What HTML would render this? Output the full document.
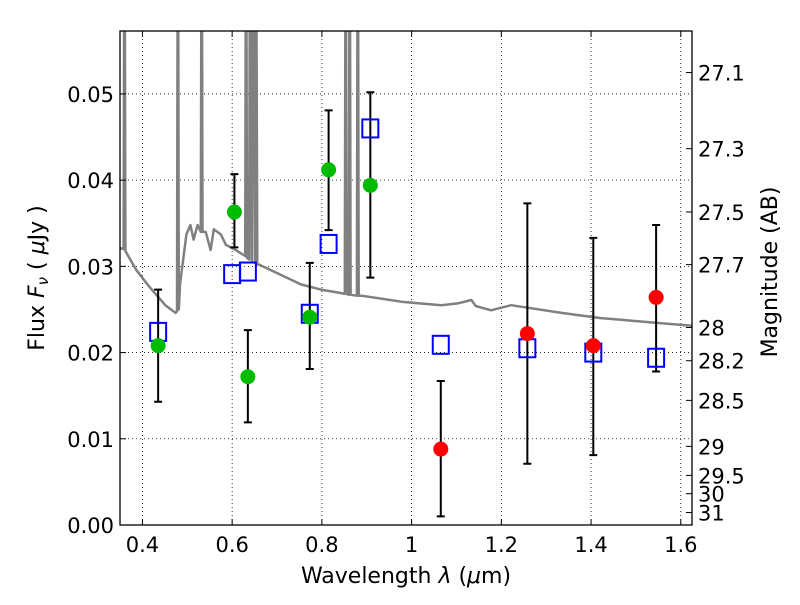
<!DOCTYPE html>
<html><head><meta charset="utf-8"><style>
html,body{margin:0;padding:0;background:#fff;}
svg text{font-family:"DejaVu Sans","Liberation Sans",sans-serif;fill:#000;}
</style></head><body>
<svg id="chart" width="800" height="600" viewBox="0 0 800 600" xmlns="http://www.w3.org/2000/svg">
<defs><clipPath id="clip"><rect x="120" y="31" width="572" height="494"/></clipPath></defs>
<rect x="0" y="0" width="800" height="600" fill="#fff"/>
<g id="grid"></g>
<g id="spec" clip-path="url(#clip)"></g>
<g id="marks" clip-path="url(#clip)"></g>
<rect x="120" y="31" width="572" height="494" fill="none" stroke="#000" stroke-width="1.3"/>
<g id="axes"></g>
<text x="406" y="583" font-size="22" text-anchor="middle">Wavelength  <tspan font-style="italic">λ</tspan> (<tspan font-style="italic">μ</tspan>m)</text>
<text transform="translate(44,278) rotate(-90)" font-size="22" text-anchor="middle">Flux  <tspan font-style="italic">F</tspan><tspan font-style="italic" font-size="15" dy="4">ν</tspan><tspan dy="-4">  ( </tspan><tspan font-style="italic">μ</tspan>Jy )</text>
<text transform="translate(777,272) rotate(-90)" font-size="22" text-anchor="middle">Magnitude (AB)</text>
</svg>
<script>
const xTicks=[0.4,0.6,0.8,1.0,1.2,1.4,1.6];
const xTickLabels=["0.4","0.6","0.8","1","1.2","1.4","1.6"];
const yTicks=[0,0.01,0.02,0.03,0.04,0.05];
const yTickLabels=["0.00","0.01","0.02","0.03","0.04","0.05"];
const magTicks=[27.1,27.3,27.5,27.7,28,28.2,28.5,29,29.5,30,31];
const greenX=[0.435,0.605,0.635,0.773,0.815,0.908];
const greenY=[0.0208,0.0363,0.0172,0.0241,0.0412,0.0394];
const greenLo=[0.0143,0.0322,0.0119,0.0181,0.0342,0.0287];
const greenHi=[0.0273,0.0407,0.0226,0.0304,0.0481,0.0502];
const redX=[1.065,1.258,1.405,1.545];
const redY=[0.0088,0.0222,0.0208,0.0264];
const redLo=[0.0010,0.0071,0.0081,0.0178];
const redHi=[0.0167,0.0373,0.0333,0.0348];
const boxX=[0.435,0.600,0.635,0.773,0.815,0.908,1.065,1.258,1.405,1.545];
const boxY=[0.0224,0.0291,0.0294,0.0245,0.0326,0.0460,0.0209,0.0205,0.0200,0.0194];
const specX=[0.345,0.358,0.360,0.362,0.364,0.386,0.416,0.451,0.474,0.477,0.479,0.481,0.484,0.498,0.507,0.514,0.523,0.530,0.532,0.534,0.541,0.552,0.559,0.575,0.586,0.608,0.629,0.631,0.633,0.638,0.640,0.644,0.646,0.651,0.653,0.656,0.660,0.709,0.754,0.798,0.843,0.851,0.853,0.855,0.860,0.862,0.864,0.878,0.880,0.882,0.888,0.977,1.066,1.103,1.133,1.143,1.177,1.222,1.334,1.422,1.467,1.557,1.625];
const specY=[0.0322,0.0320,0.08,0.0318,0.0316,0.0296,0.0276,0.0255,0.0246,0.0248,0.08,0.0250,0.0280,0.0337,0.0348,0.0331,0.0348,0.0340,0.08,0.0340,0.0340,0.0319,0.0343,0.0337,0.0325,0.0319,0.0312,0.08,0.0310,0.0308,0.08,0.0306,0.08,0.0304,0.08,0.0302,0.0302,0.0290,0.0279,0.0273,0.0269,0.0268,0.08,0.0268,0.0267,0.08,0.0267,0.0266,0.08,0.0266,0.0266,0.0259,0.0255,0.0257,0.0261,0.0254,0.0249,0.0255,0.0246,0.0240,0.0238,0.0234,0.0231];
const X0=120,X1=692,Y0=525,Y1=31,xmin=0.350,xmax=1.625,ymin=0,ymax=0.0573;
const sx=v=>X0+(v-xmin)/(xmax-xmin)*(X1-X0);
const sy=v=>Y0-(v-ymin)/(ymax-ymin)*(Y0-Y1);
const NS="http://www.w3.org/2000/svg";
function mk(parent,tag,attrs){const e=document.createElementNS(NS,tag);for(const k in attrs)e.setAttribute(k,attrs[k]);parent.appendChild(e);return e;}
const grid=document.getElementById('grid'),axes=document.getElementById('axes'),spec=document.getElementById('spec'),marks=document.getElementById('marks');
xTicks.forEach((t,i)=>{const x=sx(t);
 let g=mk(grid,'line',{x1:x,x2:x,y1:Y1,y2:Y0,stroke:'#000','stroke-width':0.8,'stroke-dasharray':'1,3'});
 
 let tk=mk(axes,'line',{x1:x,x2:x,y1:Y0,y2:Y0-6,stroke:'#000','stroke-width':1});
 
 let tk2=mk(axes,'line',{x1:x,x2:x,y1:Y1,y2:Y1+6,stroke:'#000','stroke-width':1});
 
 let tx=mk(axes,'text',{x:x,y:Y0+27,'font-size':21,'text-anchor':'middle'});tx.textContent=xTickLabels[i];
 });
yTicks.forEach((t,i)=>{const y=sy(t);
 let g=mk(grid,'line',{x1:X0,x2:X1,y1:y,y2:y,stroke:'#000','stroke-width':0.8,'stroke-dasharray':'1,3'});
 
 let tk=mk(axes,'line',{x1:X0,x2:X0+6,y1:y,y2:y,stroke:'#000','stroke-width':1});
 
 let tx=mk(axes,'text',{x:X0-6,y:y+8,'font-size':21,'text-anchor':'end'});tx.textContent=yTickLabels[i];
 });
magTicks.forEach(m=>{const f=Math.pow(10,(23.9-m)/2.5);const y=sy(f);
 let tk=mk(axes,'line',{x1:X1,x2:X1-6,y1:y,y2:y,stroke:'#000','stroke-width':1});
 
 let tx=mk(axes,'text',{x:X1+6,y:y+8,'font-size':21});tx.textContent=String(m);
 });
let d=specX.map((v,i)=>(i?'L':'M')+sx(v).toFixed(1)+','+sy(specY[i]).toFixed(1)).join('');
let sp=mk(spec,'path',{d:d,fill:'none',stroke:'#808080','stroke-width':2.5,'stroke-linejoin':'round'});

function errbar(x,lo,hi){const X=sx(x);
 let e=mk(marks,'path',{d:`M${X},${sy(lo)}V${sy(hi)}M${X-4},${sy(lo)}h8M${X-4},${sy(hi)}h8`,stroke:'#000','stroke-width':2,fill:'none'});
 }
greenX.forEach((x,i)=>errbar(x,greenLo[i],greenHi[i]));
redX.forEach((x,i)=>errbar(x,redLo[i],redHi[i]));
boxX.forEach((x,i)=>{let r=mk(marks,'rect',{x:sx(x)-8,y:sy(boxY[i])-9,width:16,height:18,fill:'none',stroke:'#0000ff','stroke-width':2});
 });
greenX.forEach((x,i)=>{let c=mk(marks,'circle',{cx:sx(x),cy:sy(greenY[i]),r:7.5,fill:'#00bb00'});
 });
redX.forEach((x,i)=>{let c=mk(marks,'circle',{cx:sx(x),cy:sy(redY[i]),r:7.5,fill:'#ff0000'});
 });
</script>
</body></html>
